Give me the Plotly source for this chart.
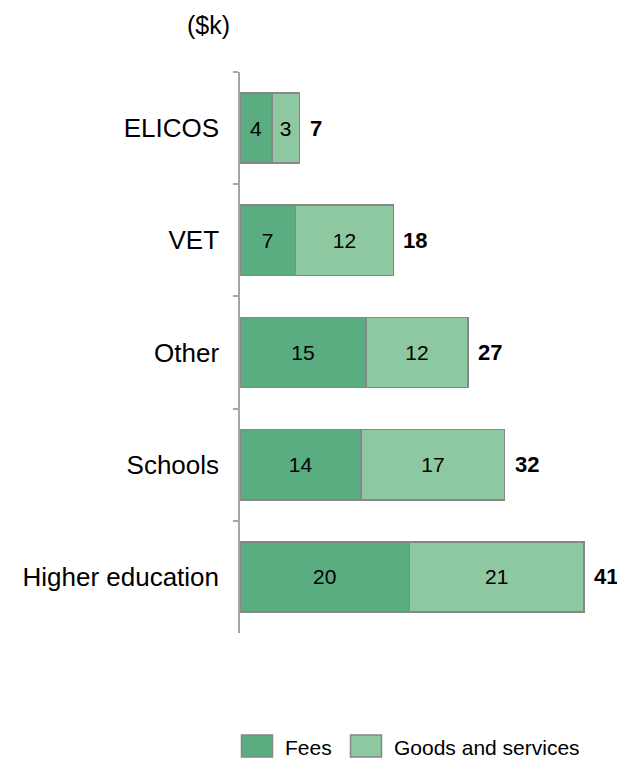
import plotly.graph_objects as go

# Average spend per student by sector ($k)
categories = ["ELICOS", "VET", "Other", "Schools", "Higher education"]
fees = [3.8, 6.6, 15.0, 14.45, 20.2]
goods_services = [3.3, 11.7, 12.2, 17.1, 20.8]
series_names = ["Fees", "Goods and services"]
unit_label = "($k)"

totals = [f + g for f, g in zip(fees, goods_services)]

FONT = "Arial, Liberation Sans, sans-serif"
FEES_COLOR = "#5aad81"
GOODS_COLOR = "#8ec8a1"
EDGE = "#878787"

W, H = 617, 758
ML, MR, MT, MB = 240, 8, 72, 125
PW, PH = W - ML - MR, H - MT - MB


def px_x(x):
    return (x - ML) / PW


def px_y(y):
    return (H - MB - y) / PH


fig = go.Figure()
for name, vals, color in [
    (series_names[0], fees, FEES_COLOR),
    (series_names[1], goods_services, GOODS_COLOR),
]:
    fig.add_trace(
        go.Bar(
            y=categories,
            x=vals,
            name=name,
            orientation="h",
            width=0.625,
            marker=dict(color=color, line=dict(color=EDGE, width=1.5)),
            text=[f"{v:.0f}" for v in vals],
            textposition="inside",
            insidetextanchor="middle",
            textangle=0,
            constraintext="none",
            textfont=dict(family=FONT, size=21, color="#000000"),
            showlegend=False,
            hoverinfo="skip",
        )
    )

# Totals beside each bar
for cat, tot in zip(categories, totals):
    fig.add_annotation(
        x=tot, y=cat, xref="x", yref="y",
        text=f"<b>{tot:.0f}</b>",
        showarrow=False, xanchor="left", xshift=8,
        font=dict(family=FONT, size=22, color="#000000"),
    )

# Unit label above the axis
fig.add_annotation(
    x=px_x(208), y=px_y(25), xref="paper", yref="paper",
    text=unit_label, showarrow=False, xanchor="center", yanchor="middle",
    font=dict(family=FONT, size=25, color="#000000"),
)

# Legend drawn as boxes with labels
legend_items = [(series_names[0], FEES_COLOR, 241.5, 283),
                (series_names[1], GOODS_COLOR, 350.5, 392)]
for name, color, bx, tx in legend_items:
    fig.add_shape(
        type="rect", xref="paper", yref="paper",
        x0=px_x(bx), x1=px_x(bx + 31), y0=px_y(735), y1=px_y(757),
        fillcolor=color, line=dict(color=EDGE, width=1.5),
    )
    fig.add_annotation(
        x=px_x(tx), y=px_y(747), xref="paper", yref="paper",
        text=name, showarrow=False, xanchor="left", yanchor="middle",
        font=dict(family=FONT, size=21, color="#000000"),
    )

fig.update_layout(
    barmode="stack",
    width=W, height=H,
    margin=dict(l=ML, r=MR, t=MT, b=MB, pad=0),
    paper_bgcolor="white", plot_bgcolor="white",
    font=dict(family=FONT, color="#000000"),
    xaxis=dict(range=[0, 44], visible=False, fixedrange=True),
    yaxis=dict(
        type="category",
        categoryorder="array", categoryarray=categories,
        range=[4.5, -0.5],
        showline=True, linecolor="#a6a6a6", linewidth=1.5,
        ticks="outside", tickson="boundaries", ticklen=5,
        tickcolor="#a6a6a6", tickwidth=1.5,
        ticklabelstandoff=14,
        tickfont=dict(family=FONT, size=26, color="#000000"),
        showgrid=False, zeroline=False, fixedrange=True,
    ),
)

fig.write_html("out.html")
